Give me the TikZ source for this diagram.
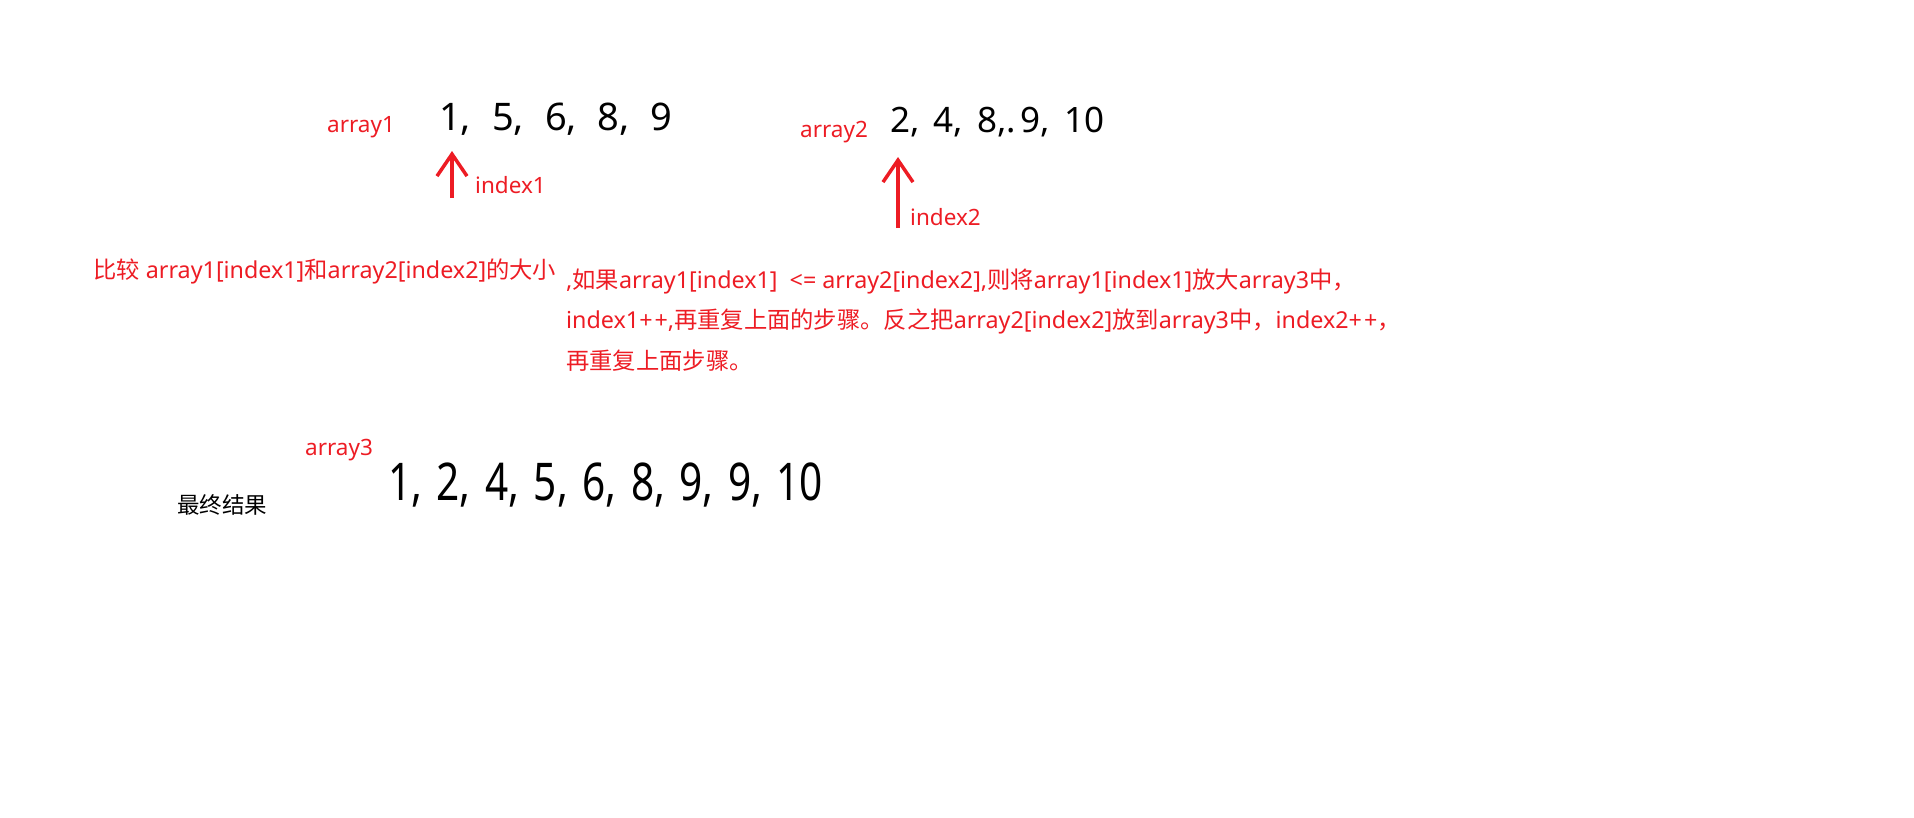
\documentclass[tikz,border=0pt]{standalone}
\usepackage{fontspec}
\setmainfont{Noto Sans}
\newfontfamily\cjk{Noto Sans CJK SC}
\newfontfamily\digitfont{Noto Sans}
\newfontfamily\narrowdigits[FakeStretch=0.78]{Noto Sans}
\usepackage{tikz}
\usetikzlibrary{arrows.meta}
\definecolor{penred}{RGB}{237,28,36}
\tikzset{
	lbl/.style={text=penred,font=\fontsize{22.5}{26}\selectfont,anchor=base west,inner sep=0pt},
	longlbl/.style={lbl,font=\fontsize{23.3}{27}\selectfont},
	note/.style={font=\fontsize{22.5}{26}\selectfont,anchor=base west,inner sep=0pt},
	nums/.style={anchor=base west,inner sep=0pt},
	pointer/.style={draw=penred,line width=3.5pt,-{Straight Barb[length=22pt,width=30pt]}}
}

\begin{document}
\begin{tikzpicture}[x=1pt,y=-1pt]
	\useasboundingbox (0,0) rectangle (1914,817);
	% first array
	\node[lbl] (arr1) at (327,132) {array1};
	\node[nums,font=\digitfont\fontsize{38}{40}\selectfont] (vals1) at (439,130) {1,\hspace{21pt}5,\hspace{21pt}6,\hspace{21pt}8,\hspace{21pt}9};
	\node[lbl] (idx1) at (475,193) {index1};
	\coordinate (tail1) at (452,198);
	\coordinate (head1) at (452,151);
	\draw[pointer] (tail1) -- (head1);
	% second array
	\node[lbl] (arr2) at (800,137) {array2};
	\node[nums,font=\digitfont\fontsize{35}{38}\selectfont] (vals2) at (890,132) {2,\hspace{14pt}4,\hspace{14pt}8,.\hspace{5pt}9,\hspace{14pt}10};
	\node[lbl] (idx2) at (910,225) {index2};
	\coordinate (tail2) at (898,228);
	\coordinate (head2) at (898,157);
	\draw[pointer] (tail2) -- (head2);
	% explanation
	\node[longlbl] (cmp) at (93,278) {{\cjk 比较} array1[index1]{\cjk 和}array2[index2]{\cjk 的大小}};
	\node[longlbl] (rule1) at (566,288) {,{\cjk 如果}array1[index1]\ \ <= array2[index2],{\cjk 则将}array1[index1]{\cjk 放大}array3{\cjk 中，}};
	\node[longlbl] (rule2) at (566,328) {index1+\hspace{2pt}+,{\cjk 再重复上面的步骤。反之把}array2[index2]{\cjk 放到}array3{\cjk 中，}index2+\hspace{2pt}+{\cjk ，}};
	\node[longlbl] (rule3) at (566,369) {{\cjk 再重复上面步骤。}};
	% result
	\node[lbl] (arr3) at (305,455) {array3};
	\node[nums,font=\narrowdigits\fontsize{52}{56}\selectfont] (vals3) at (388,500) {1,\hspace{14.5pt}2,\hspace{14.5pt}4,\hspace{14.5pt}5,\hspace{14.5pt}6,\hspace{14.5pt}8,\hspace{14.5pt}9,\hspace{14.5pt}9,\hspace{14.5pt}10};
	\node[note] (final) at (177,513) {{\cjk 最终结果}};
\end{tikzpicture}
\end{document}
